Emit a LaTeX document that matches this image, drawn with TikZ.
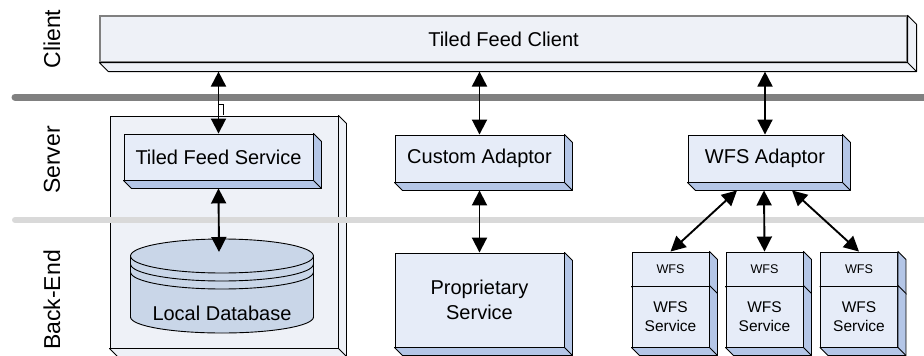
\documentclass[tikz,border=0pt]{standalone}
\usepackage{fontspec}
\setmainfont{Liberation Sans}
\usetikzlibrary{arrows.meta,calc}
\definecolor{clientfill}{HTML}{EEF1F7}
\definecolor{frontfill}{HTML}{E6ECF8}
\definecolor{sidefill}{HTML}{B4C6E7}
\definecolor{dbfill}{HTML}{C9D6E8}
\definecolor{darkline}{HTML}{808080}
\definecolor{lightline}{HTML}{D9D9D9}
\newcommand\extrude[4]{%
  \filldraw[fill=#3,draw=#4,line width=0.9pt,line join=round]
    (#1.north east) -- ++(#2,#2) -- ([shift={(#2,#2)}]#1.south east)
    -- ([shift={(#2,#2)}]#1.south west) -- (#1.south west) -- (#1.south east) -- cycle;
  \draw[draw=#4,line width=0.9pt] (#1.south east) -- ++(#2,#2);}
\tikzset{
  box/.style={draw=black, line width=0.9pt, fill=frontfill, inner sep=0pt,
    font=\fontsize{20}{25}\selectfont, align=center},
  side/.style={rotate=90, font=\fontsize{23}{27}\selectfont},
  arr/.style={{Triangle[length=15pt,width=15pt]}-{Triangle[length=15pt,width=15pt]}, line width=1.9pt},
}
\begin{document}
\begin{tikzpicture}[x=1pt,y=-1pt]
\useasboundingbox (0,0) rectangle (924,356);
% client
\node[box, fill=clientfill, draw=darkline, line width=1.2pt, minimum width=807pt, minimum height=46pt] (client) at (503.5,39) {Tiled Feed Client};
\extrude{client}{9}{clientfill}{black}
% layer labels
\node[side] (lclient) at (52,39) {Client};
\node[side] (lserver) at (52,160) {Server};
\node[side] (lback) at (52,300) {Back-End};
% dark separator
\draw[darkline, line width=7pt, line cap=round] (15,97) -- (924,97);
% server container
\node[box, fill=clientfill, minimum width=228pt, minimum height=232pt] (cont) at (224,232) {};
\extrude{cont}{8}{clientfill}{black}
% light separator
\draw[lightline, line width=6pt, line cap=round] (15,220) -- (924,220);
% tiled feed service
\node[box, minimum width=189pt, minimum height=46pt] (tfs) at (218.5,157) {Tiled Feed Service};
\extrude{tfs}{8}{sidefill}{black}
% database
\filldraw[fill=dbfill, draw=black, line width=0.9pt]
  (130.5,256) -- (130.5,317) arc[start angle=180,end angle=360,x radius=91.5pt,y radius=16pt]
  -- (313.5,256) arc[start angle=0,end angle=180,x radius=91.5pt,y radius=17pt] -- cycle;
\draw[line width=0.9pt] (130.5,256) arc[start angle=180,end angle=360,x radius=91.5pt,y radius=17pt];
\draw[line width=0.9pt] (130.5,264) arc[start angle=180,end angle=360,x radius=91.5pt,y radius=17pt];
\draw[line width=0.9pt] (130.5,272) arc[start angle=180,end angle=360,x radius=91.5pt,y radius=17pt];
\node[font=\fontsize{20}{24}\selectfont] (db) at (222,313) {Local Database};
\coordinate (dbtop) at (219,252);
% custom adaptor and proprietary service
\node[box, minimum width=169pt, minimum height=47pt] (ca) at (479.5,158.5) {Custom Adaptor};
\extrude{ca}{8}{sidefill}{black}
\node[box, minimum width=169pt, minimum height=94pt] (ps) at (479.5,300) {Proprietary\\Service};
\extrude{ps}{8}{sidefill}{black}
% wfs adaptor
\node[box, minimum width=154pt, minimum height=47pt] (wa) at (765,158.5) {WFS Adaptor};
\extrude{wa}{8}{sidefill}{black}
% wfs services
\foreach \i/\cx in {1/670.5,2/764.5,3/859}{
  \node[box, minimum width=77pt, minimum height=34pt, font=\fontsize{12.6}{15}\selectfont] (wt\i) at (\cx,269) {WFS};
  \extrude{wt\i}{8}{sidefill}{black}
  \node[box, minimum width=77pt, minimum height=61pt, font=\fontsize{15.5}{19}\selectfont] (wb\i) at (\cx,316.5) {WFS\\Service};
  \extrude{wb\i}{8}{sidefill}{black}
}
% stray mark
\draw[line width=0.8pt, fill=white] (219,104) -- (223,104) -- (223,115);
% connectors
\draw[arr] ([yshift=-9pt]tfs.north |- client.south) -- (tfs.north);
\draw[arr] ([yshift=-8pt]tfs.south) -- (dbtop);
\draw[arr] ([yshift=-9pt]ca.north |- client.south) -- (ca.north);
\draw[arr] ([yshift=-8pt]ca.south) -- (ps.north);
\draw[arr] ([yshift=-9pt]wa.north |- client.south) -- (wa.north);
\draw[arr] ([shift={(-28,8)}]wa.south) -- (wt1.north);
\draw[arr] ([shift={(-1,8)}]wa.south) -- (wt2.north);
\draw[arr] ([shift={(27,8)}]wa.south) -- (wt3.north);
\end{tikzpicture}
\end{document}
